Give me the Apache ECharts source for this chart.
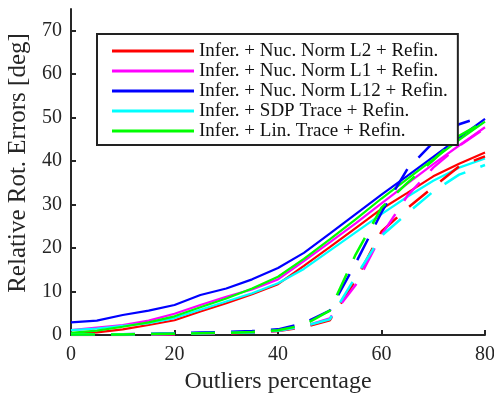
<!DOCTYPE html>
<html>
<head>
<meta charset="utf-8">
<script src="https://cdn.jsdelivr.net/npm/echarts@6/dist/echarts.min.js"></script>
<style>
html,body{margin:0;padding:0;background:#fff;}
#chart{width:494px;height:393px;}
</style>
</head>
<body>
<div id="chart"></div>
<script>
const xValues = [0,5,10,15,20,25,30,35,40,45,50,55,60,65,70,75,80];
const xTicks = [0,20,40,60,80];
const yTicks = [0,10,20,30,40,50,60,70];
const seriesNames = [
  'Infer. + Nuc. Norm L2 + Refin.',
  'Infer. + Nuc. Norm L1 + Refin.',
  'Infer. + Nuc. Norm L12 + Refin.',
  'Infer. + SDP Trace + Refin.',
  'Infer. + Lin. Trace + Refin.'
];
const colors = ['#ff0000','#ff00ff','#0000ff','#00ffff','#00ff00'];

// solid (with refinement from start)
const solidL2  = [0.2,0.6,1.3,2.3,3.4,5.4,7.3,9.4,11.7,15.9,20.2,24.6,29.0,32.7,36.5,39.4,42.0];
const solidL1  = [1.1,1.7,2.3,3.3,4.9,6.9,8.8,10.5,12.8,17.0,21.3,25.7,30.3,34.8,39.3,43.6,47.8];
const solidL12 = [2.9,3.3,4.6,5.6,6.9,9.2,10.7,12.8,15.4,18.9,23.3,27.8,32.3,36.6,41.0,45.4,49.7];
const solidSDP = [1.1,1.5,2.1,2.7,3.9,5.8,7.7,9.6,11.9,15.2,19.4,23.6,27.8,31.8,35.5,38.5,40.6];
const solidLin = [0.5,1.0,1.9,2.9,4.3,6.4,8.4,10.7,13.4,17.5,22.0,26.6,31.4,35.9,40.4,44.9,49.1];

// dashed (variant)
const dashL2  = [0.0,0.0,0.0,0.1,0.2,0.3,0.4,0.5,0.9,1.8,3.4,12.6,23.8,29.2,34.0,38.8,41.1];
const dashL1  = [0.1,0.1,0.1,0.1,0.2,0.3,0.4,0.6,1.0,2.0,3.8,11.5,23.0,32.0,38.5,43.5,47.6];
const dashL12 = [0.2,0.2,0.2,0.3,0.4,0.6,0.7,0.9,1.3,2.7,5.6,16.5,28.2,38.2,44.3,48.5,50.4];
const dashSDP = [0.2,0.2,0.2,0.2,0.3,0.4,0.5,0.6,1.0,2.0,3.6,13.4,22.8,28.0,33.0,36.9,39.1];
const dashLin = [0.1,0.1,0.1,0.2,0.3,0.4,0.5,0.7,1.1,2.3,5.6,18.5,29.3,35.0,40.2,45.8,49.2];

const solidData = [solidL2, solidL1, solidL12, solidSDP, solidLin];
const dashData = [dashL2, dashL1, dashL12, dashSDP, dashLin];

const FONT = "'Liberation Serif','Times New Roman',serif";
const AX = '#262626';

const series = [];
solidData.forEach((arr, k) => {
  series.push({
    name: seriesNames[k], type: 'line', symbol: 'none', z: 2,
    lineStyle: {color: colors[k], width: 2.2},
    itemStyle: {color: colors[k]},
    data: xValues.map((x, i) => [x, arr[i]])
  });
});
dashData.forEach((arr, k) => {
  series.push({
    name: seriesNames[k] + ' (dashed)', type: 'line', symbol: 'none', z: 3,
    lineStyle: {color: colors[k], width: 2.5, type: [24, 16]},
    itemStyle: {color: colors[k]},
    data: xValues.map((x, i) => [x, arr[i]])
  });
});

const chart = echarts.init(document.getElementById('chart'), null, {renderer: 'canvas'});
chart.setOption({
  animation: false,
  backgroundColor: '#fff',
  grid: {left: 71, right: 9, top: 9, bottom: 58, containLabel: false, outerBoundsMode: 'none'},
  legend: {
    data: seriesNames,
    orient: 'vertical', left: 97, top: 34,
    padding: [7, 10, 4, 15],
    itemGap: 0, itemWidth: 82, itemHeight: 3,
    icon: 'rect',
    borderColor: '#222', borderWidth: 2, backgroundColor: '#fff',
    textStyle: {fontFamily: FONT, fontSize: 19, lineHeight: 20, color: '#111'},
    z: 10
  },
  xAxis: {
    type: 'value', min: 0, max: 80, interval: 20,
    name: 'Outliers percentage', nameLocation: 'middle', nameGap: 35,
    nameTextStyle: {fontFamily: FONT, fontSize: 24, color: AX},
    axisLine: {lineStyle: {color: AX, width: 2}},
    axisTick: {inside: true, length: 5, lineStyle: {color: AX, width: 2}, customValues: xTicks},
    axisLabel: {fontFamily: FONT, fontSize: 20, color: AX, margin: 10, customValues: xTicks},
    splitLine: {show: false}
  },
  yAxis: {
    type: 'value', min: 0, max: 75, interval: 10,
    name: 'Relative Rot. Errors [deg]', nameLocation: 'middle', nameGap: 35, nameRotate: 90,
    nameTextStyle: {fontFamily: FONT, fontSize: 25, color: AX, padding: [0, 0, 0, 18]},
    axisLine: {show: true, lineStyle: {color: AX, width: 2}},
    axisTick: {show: true, inside: true, length: 5, lineStyle: {color: AX, width: 2}, customValues: yTicks},
    axisLabel: {fontFamily: FONT, fontSize: 20, color: AX, margin: 9, customValues: yTicks},
    splitLine: {show: false}
  },
  series: series
});
</script>
</body>
</html>
